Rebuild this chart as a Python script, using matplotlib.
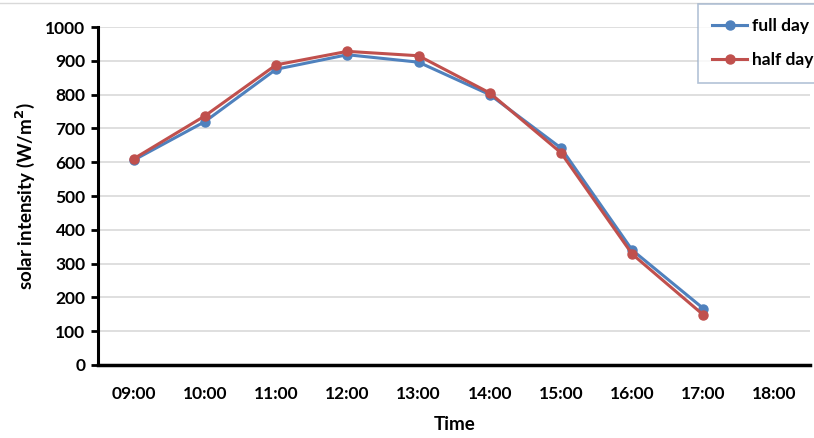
import matplotlib.pyplot as plt
import numpy as np
from matplotlib.lines import Line2D

times = ['09:00', '10:00', '11:00', '12:00', '13:00', '14:00', '15:00', '16:00', '17:00', '18:00']
full_day = [606, 720, 875, 918, 896, 800, 642, 340, 167]
half_day = [610, 737, 888, 928, 915, 805, 628, 328, 148]

plt.rcParams['font.family'] = ['Lato', 'DejaVu Sans']
plt.rcParams['font.weight'] = 'bold'

fig = plt.figure(figsize=(8.14, 4.38), dpi=100)
ax = fig.add_axes([0.1204, 0.1667, 0.875, 0.7716])

x = np.arange(len(full_day))
ax.plot(x, full_day, color='#4F81BD', lw=2.2, marker='o', ms=6.5, label='full day')
ax.plot(x, half_day, color='#C0504D', lw=2.2, marker='o', ms=6.5, label='half day')

ax.set_xlim(-0.5, len(times) - 0.5)
ax.set_ylim(0, 1000)
ax.set_xticks(np.arange(len(times)))
ax.set_xticklabels(times)
ax.set_yticks(np.arange(0, 1001, 100))
ax.tick_params(axis='x', length=0, pad=15, labelsize=12.5)
ax.tick_params(axis='y', length=5, width=2, direction='out', labelsize=12.5, pad=4)
for lab in ax.get_xticklabels() + ax.get_yticklabels():
    lab.set_fontweight('bold')

ax.grid(axis='y', color='#D9D9D9', lw=1.2)
ax.set_axisbelow(True)
for s in ['top', 'right']:
    ax.spines[s].set_visible(False)
ax.spines['left'].set_linewidth(2.2)
ax.spines['bottom'].set_linewidth(2.5)

ax.set_xlabel('Time', fontsize=13.5, fontweight='bold', labelpad=10)
ax.set_ylabel('solar intensity (W/m$^\\mathbf{2}$)', fontsize=13.5, fontweight='bold', labelpad=6)

# faint chart border at the top
fig.add_artist(Line2D([0, 1], [0.993, 0.993], color='#D9D9D9', lw=1))

leg = fig.legend(loc='upper left', bbox_to_anchor=(0.857, 0.992), frameon=True, fancybox=False,
                 handlelength=2.0, borderpad=0.85, labelspacing=1.05,
                 handletextpad=0.3, borderaxespad=0, edgecolor='#9FB3CC',
                 prop={'weight': 'bold', 'size': 12.5})
leg.get_frame().set_linewidth(1.2)

fig.savefig('out.png', dpi=100)
